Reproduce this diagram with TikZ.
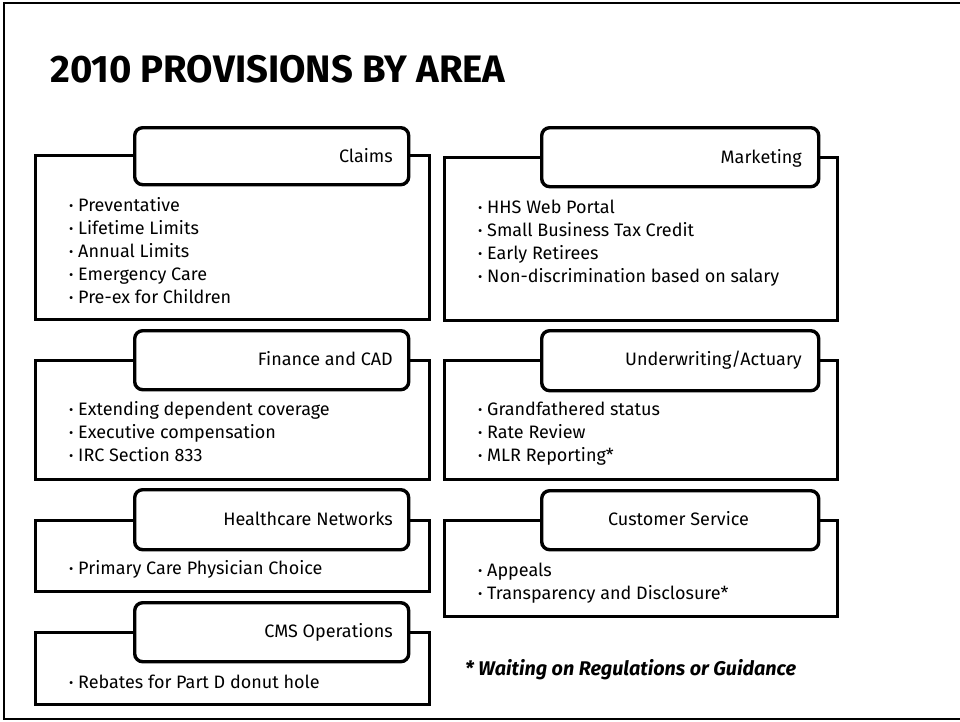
\documentclass[tikz,border=0pt]{standalone}
\usepackage{fontspec}
\setmainfont{Fira Sans}
\newcommand\bul{\makebox[9pt][l]{\fontsize{13}{13}\selectfont\raisebox{0.5pt}{•}}}
\begin{document}
\begin{tikzpicture}[x=1pt,y=-1pt,
  panel/.style={draw, line width=3.4pt, fill=white, anchor=north west, inner sep=0pt},
  tab/.style={draw, line width=3.4pt, fill=white, rounded corners=8pt, anchor=north west, inner sep=0pt},
  item/.style={anchor=base west, inner sep=0pt, font=\fontsize{18}{22}\selectfont},
  lab/.style={anchor=base east, inner sep=0pt, font=\fontsize{18}{22}\selectfont},
  labc/.style={anchor=base, inner sep=0pt, font=\fontsize{18}{22}\selectfont}]
\useasboundingbox (0,0) rectangle (960,721);
\draw[line width=2pt] (966,3) -- (4,3) -- (4,719) -- (966,719);
\node[anchor=base west, inner sep=0pt, font=\fontsize{38.3}{44}\bfseries] (title) at (50,82) {2010 PROVISIONS BY AREA};

% Claims
\node[panel, minimum width=394pt, minimum height=164pt] (claims) at (34,154) {};
\node[tab, minimum width=274pt, minimum height=57pt] (claimsTab) at (133,126) {};
\node[lab] (claimsLab) at (393,162) {Claims};
\node[item] (c1) at (69,211) {\bul Preventative};
\node[item] (c2) at (69,234) {\bul Lifetime Limits};
\node[item] (c3) at (69,257) {\bul Annual Limits};
\node[item] (c4) at (69,280) {\bul Emergency Care};
\node[item] (c5) at (69,303) {\bul Pre-ex for Children};

% Marketing
\node[panel, minimum width=393pt, minimum height=163pt] (mkt) at (443,156) {};
\node[tab, minimum width=277pt, minimum height=59pt] (mktTab) at (540,126) {};
\node[lab] (mktLab) at (802,163) {Marketing};
\node[item] (m1) at (478,213) {\bul HHS Web Portal};
\node[item] (m2) at (478,236) {\bul Small Business Tax Credit};
\node[item] (m3) at (478,259) {\bul Early Retirees};
\node[item] (m4) at (478,282) {\bul Non-discrimination based on salary};

% Finance
\node[panel, minimum width=394pt, minimum height=119pt] (fin) at (34,359) {};
\node[tab, minimum width=274pt, minimum height=59pt] (finTab) at (133,329) {};
\node[lab] (finLab) at (393,365) {Finance and CAD};
\node[item] (f1) at (69,415) {\bul Extending dependent coverage};
\node[item] (f2) at (69,438) {\bul Executive compensation};
\node[item] (f3) at (69,461) {\bul IRC Section 833};

% Underwriting
\node[panel, minimum width=393pt, minimum height=119pt] (uw) at (443,359) {};
\node[tab, minimum width=277pt, minimum height=60pt] (uwTab) at (540,329) {};
\node[lab] (uwLab) at (802,365) {Underwriting/Actuary};
\node[item] (u1) at (478,415) {\bul Grandfathered status};
\node[item] (u2) at (478,438) {\bul Rate Review};
\node[item] (u3) at (478,461) {\bul MLR Reporting*};

% Healthcare
\node[panel, minimum width=394pt, minimum height=71pt] (hc) at (34,519) {};
\node[tab, minimum width=274pt, minimum height=60pt] (hcTab) at (133,488) {};
\node[lab] (hcLab) at (393,525) {Healthcare Networks};
\node[item] (h1) at (69,574) {\bul Primary Care Physician Choice};

% Customer Service
\node[panel, minimum width=393pt, minimum height=96pt] (cs) at (443,519) {};
\node[tab, minimum width=277pt, minimum height=59pt] (csTab) at (540,489) {};
\node[labc] (csLab) at (678.5,525) {Customer Service};
\node[item] (s1) at (478,576) {\bul Appeals};
\node[item] (s2) at (478,599) {\bul Transparency and Disclosure*};

% CMS
\node[panel, minimum width=394pt, minimum height=72pt] (cms) at (34,631) {};
\node[tab, minimum width=274pt, minimum height=59pt] (cmsTab) at (133,601) {};
\node[lab] (cmsLab) at (393,637) {CMS Operations};
\node[item] (o1) at (69,688) {\bul Rebates for Part D donut hole};

\node[anchor=base west, inner sep=0pt, font=\fontsize{19.8}{22}\bfseries\itshape] (note) at (465,675) {* Waiting on Regulations or Guidance};
\end{tikzpicture}
\end{document}
